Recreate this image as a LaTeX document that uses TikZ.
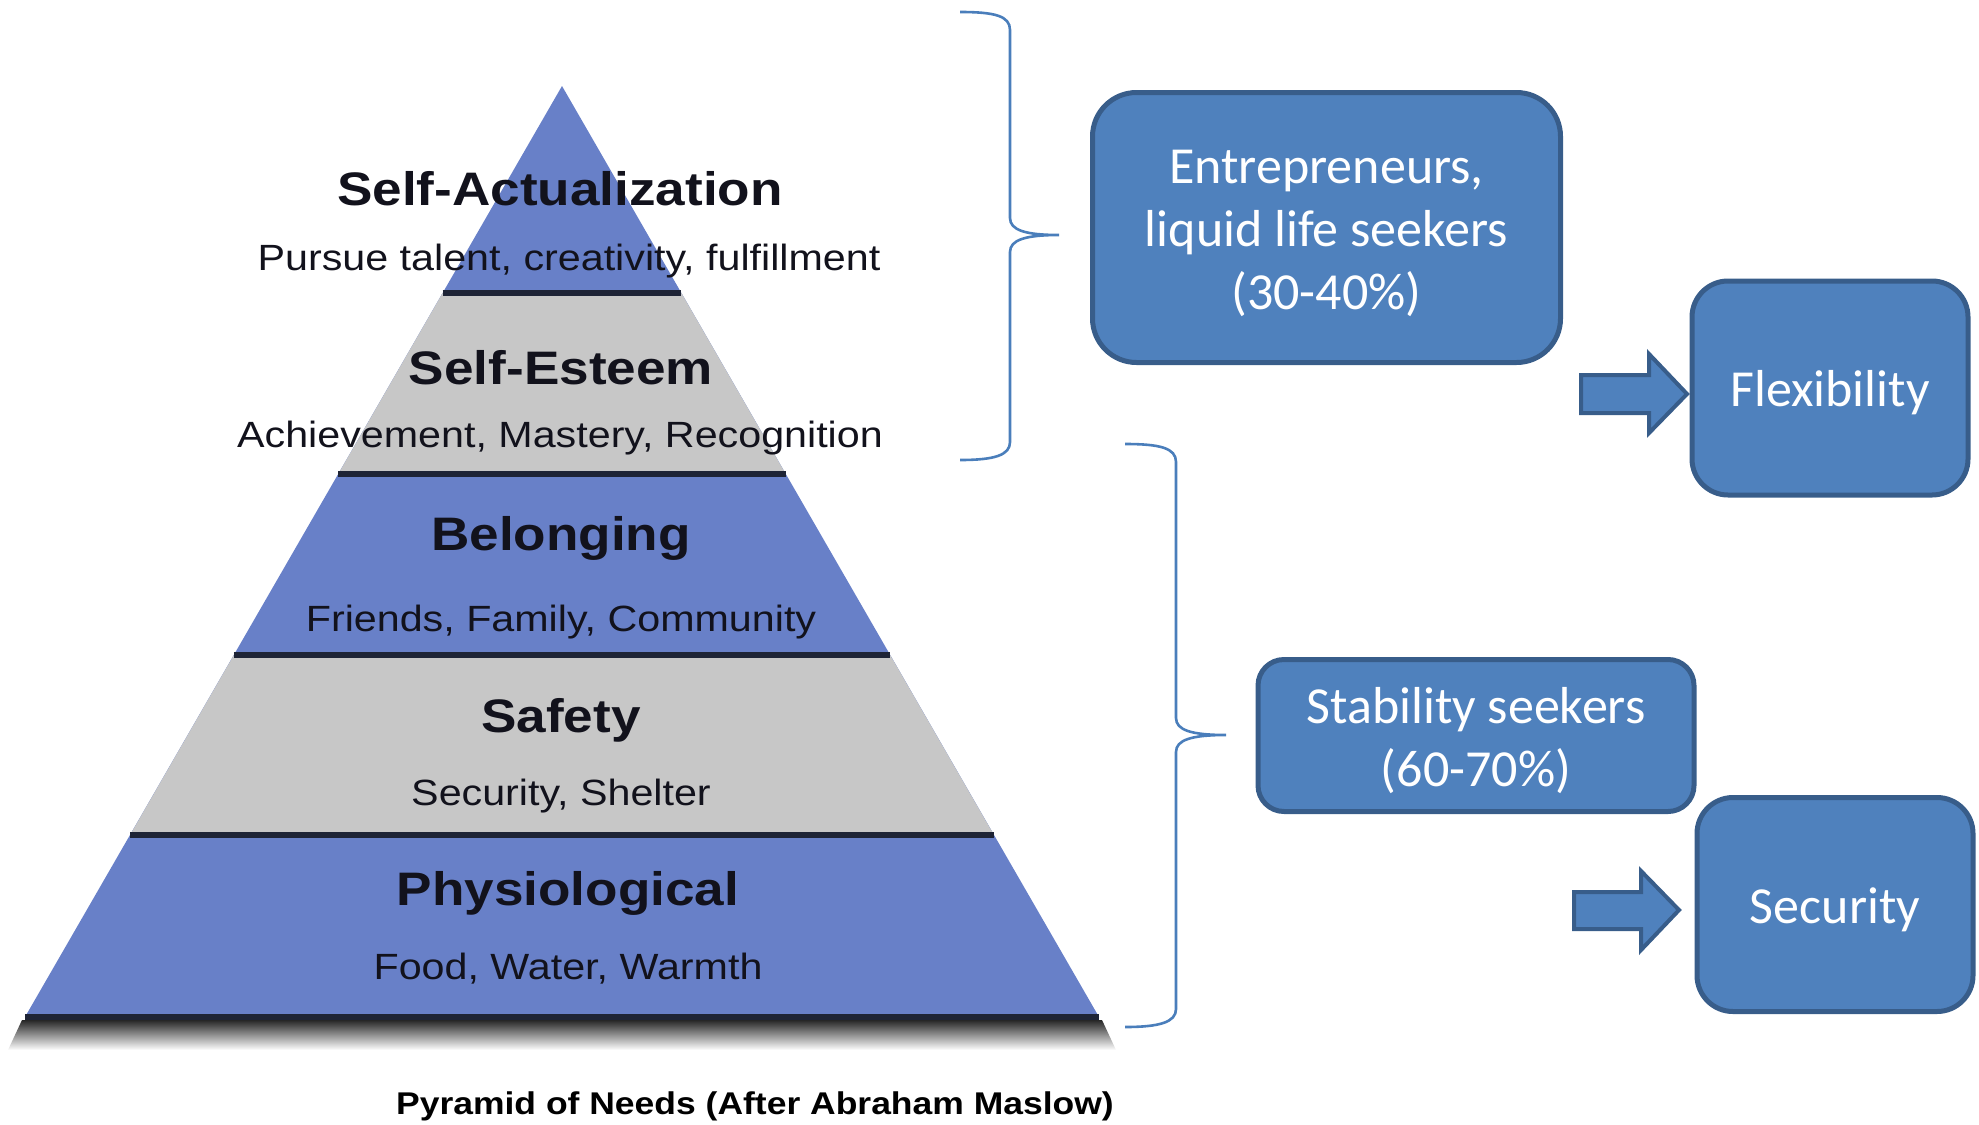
\documentclass[tikz,border=0pt]{standalone}
\usepackage{fontspec}
\setmainfont{Carlito}
\newfontfamily\pyrfont[FakeStretch=1.13]{Liberation Sans}
\definecolor{pyrblue}{RGB}{104,128,200}
\definecolor{pyrgray}{RGB}{199,199,199}
\definecolor{pyrline}{RGB}{30,36,54}
\definecolor{pyrtext}{RGB}{18,18,28}
\definecolor{boxfill}{RGB}{79,129,189}
\definecolor{boxedge}{RGB}{56,93,138}
\definecolor{bracecol}{RGB}{74,126,187}
\def\edge#1{0.5767*(#1-86)}
\def\boxstrut{\rule{0pt}{23pt}}
\def\drawPyramid{
\coordinate (apex) at (562,86);
\coordinate (baseL) at (25,1017);
\coordinate (baseR) at (1099,1017);
\shade[top color=black!85, middle color=black!30, bottom color=white] (22,1020) -- (1102,1020) -- (1116,1050) -- (8,1050) -- cycle;
\fill[pyrblue] (apex) -- (baseR) -- (baseL) -- cycle;
\foreach \ya/\yb in {293/474,655/835}
  \fill[pyrgray] ({562-\edge{\ya}},\ya) -- ({562+\edge{\ya}},\ya) -- ({562+\edge{\yb}},\yb) -- ({562-\edge{\yb}},\yb) -- cycle;
\foreach \y in {293,474,655,835,1017}
  \draw[line width=3.2pt, pyrline] ({562-\edge{\y}},\y) -- ({562+\edge{\y}},\y);
}

\tikzset{
  level/.style={anchor=base, text=pyrtext, inner sep=0pt, font=\pyrfont\bfseries\fontsize{23.5}{28}\selectfont},
  levelsub/.style={anchor=base, text=pyrtext, inner sep=0pt, font=\pyrfont\fontsize{18.25}{22}\selectfont},
  groupbox/.style={draw=boxedge, fill=boxfill, line width=2.5pt, text=white, align=center,
    inner sep=0pt, font=\fontsize{26}{31.5}\selectfont},
  blockarrow/.style={draw=boxedge, fill=boxfill, line width=2pt, line join=miter},
  groupbrace/.style={draw=bracecol, line width=1.3pt},
}

\begin{document}
\begin{tikzpicture}[x=0.5pt, y=-0.5pt]
  \useasboundingbox (0,0) rectangle (1979,1124);
  \drawPyramid
  % levels of the pyramid
  \node[level] (actual) at (560,205) {Self-Actualization};
  \node[levelsub] (actualsub) at (569,270) {Pursue talent, creativity, fulfillment};
  \node[level] (esteem) at (561,384) {Self-Esteem};
  \node[levelsub] (esteemsub) at (560,447) {Achievement, Mastery, Recognition};
  \node[level] (belong) at (561,550) {Belonging};
  \node[levelsub] (belongsub) at (561,631) {Friends, Family, Community};
  \node[level] (safety) at (561,732) {Safety};
  \node[levelsub] (safetysub) at (561,805) {Security, Shelter};
  \node[level] (physio) at (568,905) {Physiological};
  \node[levelsub] (physiosub) at (568,979) {Food, Water, Warmth};
  \node[anchor=base, inner sep=0pt, font=\pyrfont\bfseries\fontsize{15.7}{19}\selectfont] (caption) at (755,1114) {Pyramid of Needs (After Abraham Maslow)};
  % braces
  \coordinate (tipA) at (1059,235);
  \coordinate (tipB) at (1226,735);
  \draw[groupbrace] (960,12) .. controls (995,12) and (1010,16) .. (1010,30) -- (1010,218)
    .. controls (1010,230) and (1025,235) .. (tipA) .. controls (1025,235) and (1010,240) .. (1010,252)
    -- (1010,442) .. controls (1010,455) and (995,460) .. (960,460);
  \draw[groupbrace] (1125,444) .. controls (1160,444) and (1176,448) .. (1176,462) -- (1176,718)
    .. controls (1176,730) and (1191,735) .. (tipB) .. controls (1191,735) and (1176,740) .. (1176,752)
    -- (1176,1009) .. controls (1176,1022) and (1160,1027) .. (1125,1027);
  % groups
  \node[groupbox, rounded corners=22pt, minimum width=234pt, minimum height=135pt] (entre) at (1326.5,227.5) {\boxstrut Entrepreneurs,\\liquid life seekers\\(30-40\%)};
  \node[groupbox, rounded corners=18pt, minimum width=138pt, minimum height=107pt] (flex) at (1830,388) {\boxstrut Flexibility};
  \node[groupbox, rounded corners=13pt, minimum width=218pt, minimum height=76pt] (stab) at (1476,735.5) {\boxstrut Stability seekers\\(60-70\%)};
  \node[groupbox, rounded corners=18pt, minimum width=138pt, minimum height=107pt] (secu) at (1835,904.5) {\boxstrut Security};
  % block arrows
  \coordinate (arrA) at (1687,394);
  \coordinate (arrB) at (1679,910);
  \draw[blockarrow] (arrA) -- ++(-38,-40) -- ++(0,21) -- ++(-68,0) -- ++(0,38) -- ++(68,0) -- ++(0,20) -- cycle;
  \draw[blockarrow] (arrB) -- ++(-38,-39) -- ++(0,21) -- ++(-67,0) -- ++(0,37) -- ++(67,0) -- ++(0,21) -- cycle;
\end{tikzpicture}
\end{document}
